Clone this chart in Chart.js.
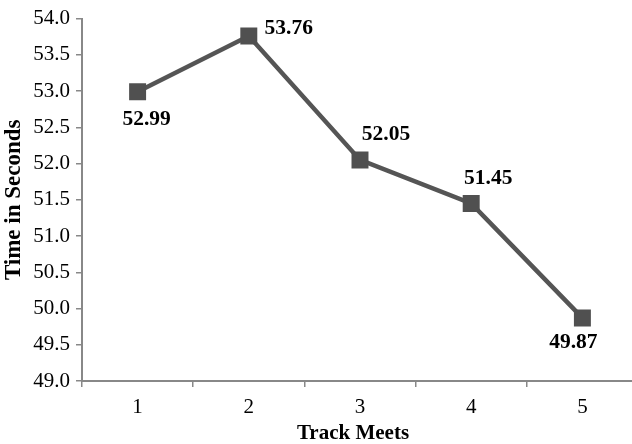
<!DOCTYPE html>
<html lang="en">
<head>
    <meta charset="UTF-8">
    <title>Track Meet Times</title>
    <script src="https://cdn.jsdelivr.net/npm/chart.js"></script>
    <style>
        body { margin: 0; background: #fff; overflow: hidden; }
        #wrap { width: 650px; height: 444px; }
    </style>
</head>
<body>
    <div id="wrap">
        <canvas id="timeChart" width="650" height="444"></canvas>
    </div>

    <script>
        var meets = ["1", "2", "3", "4", "5"];
        var times = [52.99, 53.76, 52.05, 51.45, 49.87];

        var serif = "'Liberation Serif', 'Times New Roman', serif";
        var lineGray = "#555555";
        var axisGray = "#888888";

        // where each value label sits relative to its marker
        var labelOffsets = [[9, 28], [40, -8], [26, -25], [17, -25], [-9, 25]];

        // value labels plus the x axis title, which sits a bit left of the plot centre
        var valueLabels = {
            id: "valueLabels",
            afterDatasetsDraw: function(chart) {
                var ctx = chart.ctx;
                var pts = chart.getDatasetMeta(0).data;
                ctx.save();
                ctx.font = "bold 21.5px " + serif;
                ctx.fillStyle = "#000";
                ctx.textAlign = "center";
                ctx.textBaseline = "middle";
                pts.forEach(function(pt, i) {
                    var off = labelOffsets[i];
                    ctx.fillText(times[i].toFixed(2), pt.x + off[0], pt.y + off[1]);
                });
                ctx.font = "bold 21px " + serif;
                ctx.textBaseline = "alphabetic";
                ctx.fillText("Track Meets", 353, 439);
                ctx.restore();
            }
        };

        new Chart(document.getElementById("timeChart"), {
            type: "line",
            data: {
                labels: meets,
                datasets: [{
                    data: times,
                    borderColor: lineGray,
                    borderWidth: 4.5,
                    pointStyle: "rect",
                    pointRadius: 12,
                    pointBackgroundColor: "#505050",
                    pointBorderColor: "#505050",
                    pointBorderWidth: 0,
                    tension: 0,
                    fill: false
                }]
            },
            options: {
                responsive: false,
                animation: false,
                layout: { padding: { top: 15, left: 0, right: 0, bottom: 0 } },
                plugins: {
                    legend: { display: false },
                    tooltip: { enabled: false }
                },
                scales: {
                    x: {
                        offset: true,
                        grid: { drawOnChartArea: false, offset: true, tickLength: 6, color: axisGray, lineWidth: 1.5 },
                        border: { color: axisGray, width: 2 },
                        ticks: { color: "#000", font: { family: serif, size: 21 }, padding: 8 },
                        afterFit: function(scale) { scale.height = 63; }
                    },
                    y: {
                        min: 49,
                        max: 54,
                        grid: { drawOnChartArea: false, tickLength: 6, color: axisGray, lineWidth: 1.5 },
                        border: { color: axisGray, width: 2 },
                        ticks: {
                            stepSize: 0.5,
                            color: "#000",
                            font: { family: serif, size: 21 },
                            padding: 6,
                            callback: function(v) { return Number(v).toFixed(1); }
                        },
                        title: { display: true, text: "Time in Seconds", color: "#000", font: { family: serif, size: 23, weight: "bold" }, padding: { top: 0, bottom: 1 } },
                        afterFit: function(scale) { scale.width = 82; }
                    }
                }
            },
            plugins: [valueLabels]
        });
    </script>
</body>
</html>
